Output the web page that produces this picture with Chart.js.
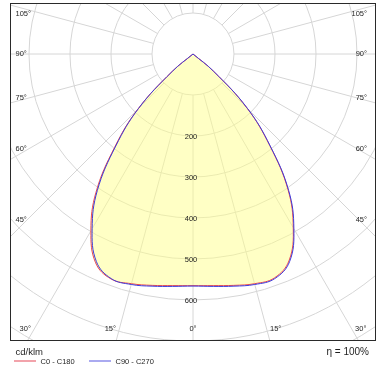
<!DOCTYPE html>
<html>
<head>
<meta charset="utf-8">
<script src="https://cdn.jsdelivr.net/npm/chart.js@4/dist/chart.umd.min.js"></script>
<style>
  html, body { margin: 0; padding: 0; background: #fff; }
</style>
</head>
<body>
<canvas id="ldc" width="386" height="373"></canvas>
<script>
// gamma angle from nadir (deg) and luminous intensity (cd/klm)
const gammaAngles = [0, 5, 10, 15, 20, 25, 30, 35, 40, 45, 50, 55, 60, 75, 90];
const c0   = [565, 567, 573, 580, 581, 555, 489, 404, 291, 186, 64, 0, 0, 0, 0];
const c180 = [565, 567, 573, 580, 584, 562, 498, 413, 298, 190, 67, 0, 0, 0, 0];
const c90  = [566, 569, 575, 582, 583, 558, 492, 407, 293, 188, 66, 0, 0, 0, 0];
const c270 = [566, 569, 575, 582, 583, 558, 492, 407, 293, 188, 66, 0, 0, 0, 0];

const ringValues = [100, 200, 300, 400, 500, 600, 700, 800, 900, 1000];
const ringLabelValues = [200, 300, 400, 500, 600];
const angleTicks = [0, 15, 30, 45, 60, 75, 90, 105];
const seriesNames = ['C0 - C180', 'C90 - C270'];

const FONT = '"Liberation Sans", Arial, sans-serif';

// left half (second plane) from 90 down to 0, then right half (first plane) 0 up to 90
function polarPoints(left, right) {
  const pts = [];
  for (let i = gammaAngles.length - 1; i >= 0; i--) {
    const a = gammaAngles[i] * Math.PI / 180;
    pts.push({x: -left[i] * Math.sin(a), y: -left[i] * Math.cos(a)});
  }
  for (let i = 1; i < gammaAngles.length; i++) {
    const a = gammaAngles[i] * Math.PI / 180;
    pts.push({x: right[i] * Math.sin(a), y: -right[i] * Math.cos(a)});
  }
  return pts;
}

const polarGrid = {
  id: 'polarGrid',
  beforeDatasetsDraw(chart) {
    const {ctx, chartArea: a, scales: {x, y}} = chart;
    const cx = x.getPixelForValue(0), cy = y.getPixelForValue(0);
    ctx.save();
    ctx.beginPath();
    ctx.rect(a.left, a.top, a.width, a.height);
    ctx.clip();
    ctx.strokeStyle = '#d6d6d6';
    ctx.lineWidth = 1;
    ringValues.forEach(v => {
      const r = x.getPixelForValue(v) - cx;
      ctx.beginPath();
      ctx.arc(cx, cy, r, 0, Math.PI * 2);
      ctx.stroke();
    });
    const r0 = x.getPixelForValue(ringValues[0]) - cx;
    const r1 = x.getPixelForValue(ringValues[ringValues.length - 1]) - cx;
    ctx.beginPath();
    for (let g = 0; g < 360; g += 15) {
      const t = g * Math.PI / 180;
      ctx.moveTo(cx + r0 * Math.sin(t), cy + r0 * Math.cos(t));
      ctx.lineTo(cx + r1 * Math.sin(t), cy + r1 * Math.cos(t));
    }
    ctx.stroke();
    ctx.restore();
  }
};

const ldcLabels = {
  id: 'ldcLabels',
  afterDatasetsDraw(chart) {
    const {ctx, chartArea: a, scales: {x, y}} = chart;
    const cx = x.getPixelForValue(0), cy = y.getPixelForValue(0);
    ctx.save();
    ctx.fillStyle = '#1e1e1e';
    ctx.font = '7.5px ' + FONT;
    ctx.textBaseline = 'middle';

    // intensity values along the nadir
    ctx.textAlign = 'center';
    ringLabelValues.forEach(v => {
      ctx.fillText(String(v), cx - 2, y.getPixelForValue(-v) + 1);
    });

    // angle labels where the spokes meet the frame band
    const sideL = a.left + 10, sideR = a.right - 10, bandB = a.bottom - 12;
    angleTicks.forEach(g => {
      const t = g * Math.PI / 180, s = Math.sin(t), c = Math.cos(t);
      const txt = g + '°';
      if (g === 0) {
        ctx.textAlign = 'center';
        ctx.fillText(txt, cx, bandB);
        return;
      }
      const yl = cy + (cx - sideL) * c / s;
      const yr = cy + (sideR - cx) * c / s;
      if (yl <= bandB) {
        ctx.textAlign = 'left';
        ctx.fillText(txt, a.left + 5.5, Math.max(a.top + 11, yl - 10 * c));
        ctx.textAlign = 'right';
        ctx.fillText(txt, a.right - 9, Math.max(a.top + 11, yr - 10 * c));
      } else {
        const dx = (bandB - cy) * s / c + 9;
        ctx.textAlign = 'center';
        ctx.fillText(txt, cx - dx, bandB);
        ctx.fillText(txt, cx + dx, bandB);
      }
    });

    // frame
    ctx.strokeStyle = '#2a2a2a';
    ctx.lineWidth = 1;
    ctx.strokeRect(a.left + 0.5, a.top + 0.5, a.width - 1, a.height - 1);

    // unit, efficiency and legend under the frame
    ctx.textBaseline = 'alphabetic';
    ctx.textAlign = 'left';
    ctx.font = '9.5px ' + FONT;
    ctx.fillText('cd/klm', a.left + 5.5, a.bottom + 13.5);
    ctx.textAlign = 'right';
    ctx.font = '10px ' + FONT;
    ctx.fillText('η = 100%', a.right - 7, a.bottom + 13.5);

    ctx.font = '7.5px ' + FONT;
    ctx.textAlign = 'left';
    const legendColors = ['#f2a3ab', '#aaaaf0'];
    const lx = [a.left + 4, a.left + 79];
    seriesNames.forEach((name, i) => {
      ctx.strokeStyle = legendColors[i];
      ctx.lineWidth = 2;
      ctx.beginPath();
      ctx.moveTo(lx[i], a.bottom + 20);
      ctx.lineTo(lx[i] + 22, a.bottom + 20);
      ctx.stroke();
      ctx.fillText(name, lx[i] + 26.5, a.bottom + 22.5);
    });
    ctx.restore();
  }
};

new Chart(document.getElementById('ldc'), {
  type: 'scatter',
  data: {
    datasets: [
      {
        label: seriesNames[0],
        data: polarPoints(c180, c0),
        showLine: true,
        borderColor: '#ee4a4a',
        borderWidth: 1,
        backgroundColor: 'rgba(255, 255, 140, 0.5)',
        fill: 'shape',
        pointRadius: 0,
        tension: 0.4,
        order: 2
      },
      {
        label: seriesNames[1],
        data: polarPoints(c270, c90),
        showLine: true,
        borderColor: '#3c3cdc',
        borderWidth: 1,
        fill: false,
        pointRadius: 0,
        tension: 0.4,
        order: 1
      }
    ]
  },
  options: {
    responsive: false,
    animation: false,
    layout: { padding: { left: 10, top: 3, right: 10, bottom: 32 } },
    scales: {
      x: { type: 'linear', display: false, min: -446.3, max: 446.3 },
      y: { type: 'linear', display: false, min: -700, max: 124.4 }
    },
    plugins: {
      legend: { display: false },
      tooltip: { enabled: false }
    }
  },
  plugins: [polarGrid, ldcLabels]
});
</script>
</body>
</html>
